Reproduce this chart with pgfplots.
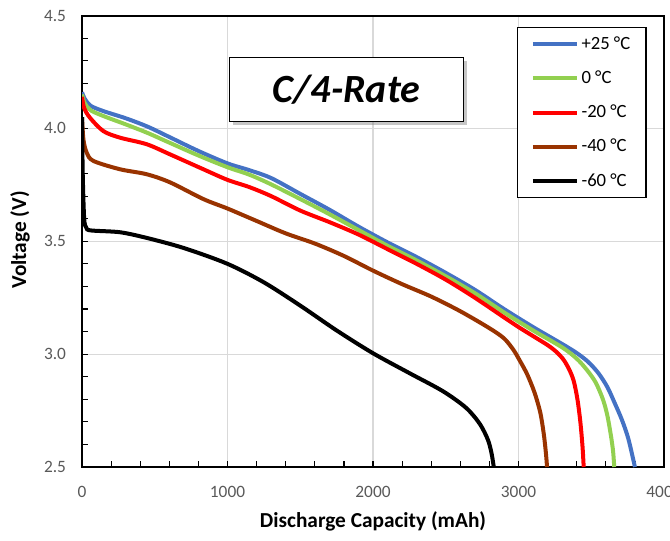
\documentclass[border=0pt]{standalone}
\usepackage{pgfplots}
\pgfplotsset{compat=1.18}
\usepackage{fontspec}
\setmainfont{Carlito}
\usetikzlibrary{shadows}
\definecolor{cblue}{HTML}{4472C4}
\definecolor{cgreen}{HTML}{92D050}
\definecolor{cred}{HTML}{FF0000}
\definecolor{cbrown}{HTML}{993300}
\definecolor{tickgray}{HTML}{595959}
\definecolor{gridgray}{HTML}{D9D9D9}
\begin{document}
\begin{tikzpicture}
\begin{axis}[
  at={(0,0)}, anchor=south west,
  scale only axis, width=436.5pt, height=338.6pt,
  xmin=0, xmax=4000, ymin=2.5, ymax=4.5,
  xtick={0,1000,2000,3000,4000},
  ytick={2.5,3.0,3.5,4.0,4.5},
  minor x tick num=4, minor y tick num=4,
  /pgf/number format/assume math mode=true,
  ticklabel style={font=\fontsize{13}{15}\selectfont, text=tickgray},
  xticklabel style={yshift=-11pt, /pgf/number format/.cd, fixed, precision=0, 1000 sep={}},
  yticklabel style={xshift=-8.5pt, /pgf/number format/.cd, fixed, fixed zerofill, precision=1},
  tick align=inside, tick pos=left,
  major tick length=4.5pt, minor tick length=4.5pt,
  every tick/.style={black, line width=0.9pt},
  grid=major, grid style={draw=gridgray, line width=0.9pt},
  axis line style={line width=1.5pt},
  xlabel={Discharge Capacity (mAh)},
  ylabel={Voltage (V)},
  every axis x label/.style={at={(axis description cs:0.5,-0.121)}, anchor=center,
    font=\bfseries\fontsize{16}{18}\selectfont},
  every axis y label/.style={at={(axis description cs:-0.1066,0.503)}, anchor=center, rotate=90,
    font=\bfseries\fontsize{16}{18}\selectfont},
  legend cell align=left,
  legend style={at={(rel axis cs:0.747,0.975)}, anchor=north west, draw=black, line width=1.2pt,
    font=\fontsize{14}{16}\selectfont, inner xsep=10pt, inner ysep=5pt, row sep=10.5pt,
    nodes={inner sep=2pt}},
  legend image code/.code={\draw[#1] (0pt,0pt) -- (33pt,0pt);},
  every axis plot/.append style={line width=3pt, smooth, tension=0.5},
]
\addplot[cblue] coordinates {
(0,4.16) (20,4.13) (60,4.10) (150,4.076) (300,4.045) (450,4.008) (600,3.962)
(800,3.90) (1000,3.845) (1150,3.815) (1300,3.78) (1500,3.71) (1700,3.64)
(1900,3.565) (2100,3.495) (2300,3.43) (2500,3.36) (2700,3.285) (2900,3.20)
(3100,3.12) (3300,3.045) (3400,3.005) (3480,2.965) (3550,2.915) (3610,2.855)
(3660,2.785) (3710,2.71) (3755,2.625) (3800,2.50)
};
\addlegendentry{+25 °C}
\addplot[cgreen] coordinates {
(0,4.15) (20,4.11) (60,4.08) (150,4.054) (300,4.018) (450,3.98) (600,3.937)
(800,3.88) (1000,3.828) (1150,3.795) (1300,3.752) (1500,3.687) (1700,3.62)
(1900,3.55) (2100,3.48) (2300,3.415) (2500,3.345) (2700,3.27) (2900,3.185)
(3100,3.105) (3300,3.03) (3400,2.98) (3470,2.93) (3530,2.875) (3580,2.80)
(3610,2.73) (3635,2.64) (3650,2.57) (3658,2.50)
};
\addlegendentry{0 °C}
\addplot[cred] coordinates {
(0,4.14) (15,4.09) (55,4.047) (147,3.988) (261,3.959) (444,3.93) (605,3.885)
(834,3.819) (1000,3.772) (1150,3.74) (1300,3.70) (1500,3.636) (1700,3.585)
(1900,3.53) (2100,3.465) (2300,3.40) (2500,3.33) (2700,3.25) (2900,3.163)
(3000,3.12) (3100,3.08) (3200,3.04) (3260,3.01) (3310,2.975) (3350,2.93)
(3380,2.88) (3405,2.80) (3425,2.70) (3440,2.59) (3448,2.50)
};
\addlegendentry{-20 °C}
\addplot[cbrown] coordinates {
(0,4.05) (10,3.95) (32,3.893) (78,3.856) (261,3.819) (444,3.797) (605,3.761)
(834,3.687) (1000,3.645) (1200,3.59) (1400,3.535) (1600,3.49) (1800,3.435)
(2000,3.37) (2200,3.31) (2400,3.255) (2600,3.19) (2800,3.115) (2900,3.07)
(2964,3.02) (3010,2.97) (3060,2.91) (3110,2.83) (3150,2.74) (3175,2.64)
(3190,2.55) (3196,2.50)
};
\addlegendentry{-40 °C}
\addplot[black] coordinates {
(0,4.05) (5,3.80) (15,3.60) (30,3.56) (60,3.548) (261,3.54) (444,3.515)
(700,3.47) (1000,3.40) (1250,3.318) (1500,3.215) (1750,3.105) (2000,3.004)
(2250,2.916) (2480,2.836) (2640,2.762) (2735,2.69) (2790,2.62) (2815,2.56)
(2830,2.50)
};
\addlegendentry{-60 °C}
\node[draw=black, line width=0.8pt, fill=white, minimum width=175pt, minimum height=48pt,
  font=\bfseries\itshape\fontsize{30}{32}\selectfont,
  drop shadow={opacity=0.45, shadow xshift=2.5pt, shadow yshift=-2.5pt}]
  at (axis cs:1818,4.172) {C/4-Rate};
\end{axis}
\pgfresetboundingbox
\path[use as bounding box] (-61.5pt,-54.75pt) rectangle (441pt,350.25pt);
\end{tikzpicture}
\end{document}
